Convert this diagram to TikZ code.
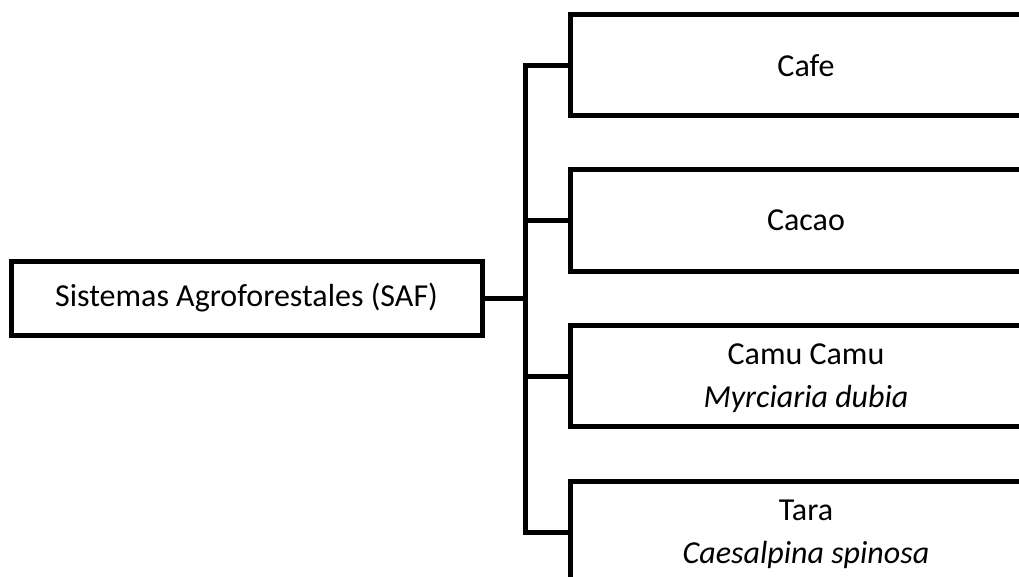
\documentclass[tikz,border=0pt]{standalone}
\usepackage{fontspec}
\setmainfont{Carlito}
\usetikzlibrary{positioning, calc, shadows}

\begin{document}
\begin{tikzpicture}[
    x=1pt, y=-1pt,
    font=\fontsize{32}{43}\selectfont,
    box/.style={rectangle, draw=black, line width=5pt, fill=white, inner sep=0pt, align=center,
        drop shadow={shadow xshift=1.5pt, shadow yshift=-1.5pt, opacity=0.35, fill=gray}},
    mainbox/.style={box, minimum width=471pt, minimum height=74pt},
    cropbox/.style={box, minimum width=472pt, minimum height=101pt},
    twoline/.style={cropbox, text depth=0pt, yshift=0pt},
    conn/.style={line width=5pt}
]
\clip (0,0) rectangle (1019,577);

\node[mainbox] (saf) at (246.5, 298) {Sistemas Agroforestales (SAF)};

\node[cropbox] (cafe)  at (806, 65.5)  {Cafe};
\node[cropbox] (cacao) at (806, 220.5) {Cacao};
\node[twoline] (camu)  at (806, 376)   {Camu Camu\\\textit{Myrciaria dubia}};
\node[twoline] (tara)  at (806, 532)   {Tara\\\textit{Caesalpina spinosa}};

% trunk of the bracket
\coordinate (tr) at (525.5, 298);

\draw[conn] (saf.east) -- (tr);
\draw[conn] (cafe.west) -| (tr) |- (tara.west);
\draw[conn] (cacao.west) -- (cacao.west -| tr);
\draw[conn] (camu.west) -- (camu.west -| tr);
\end{tikzpicture}
\end{document}
